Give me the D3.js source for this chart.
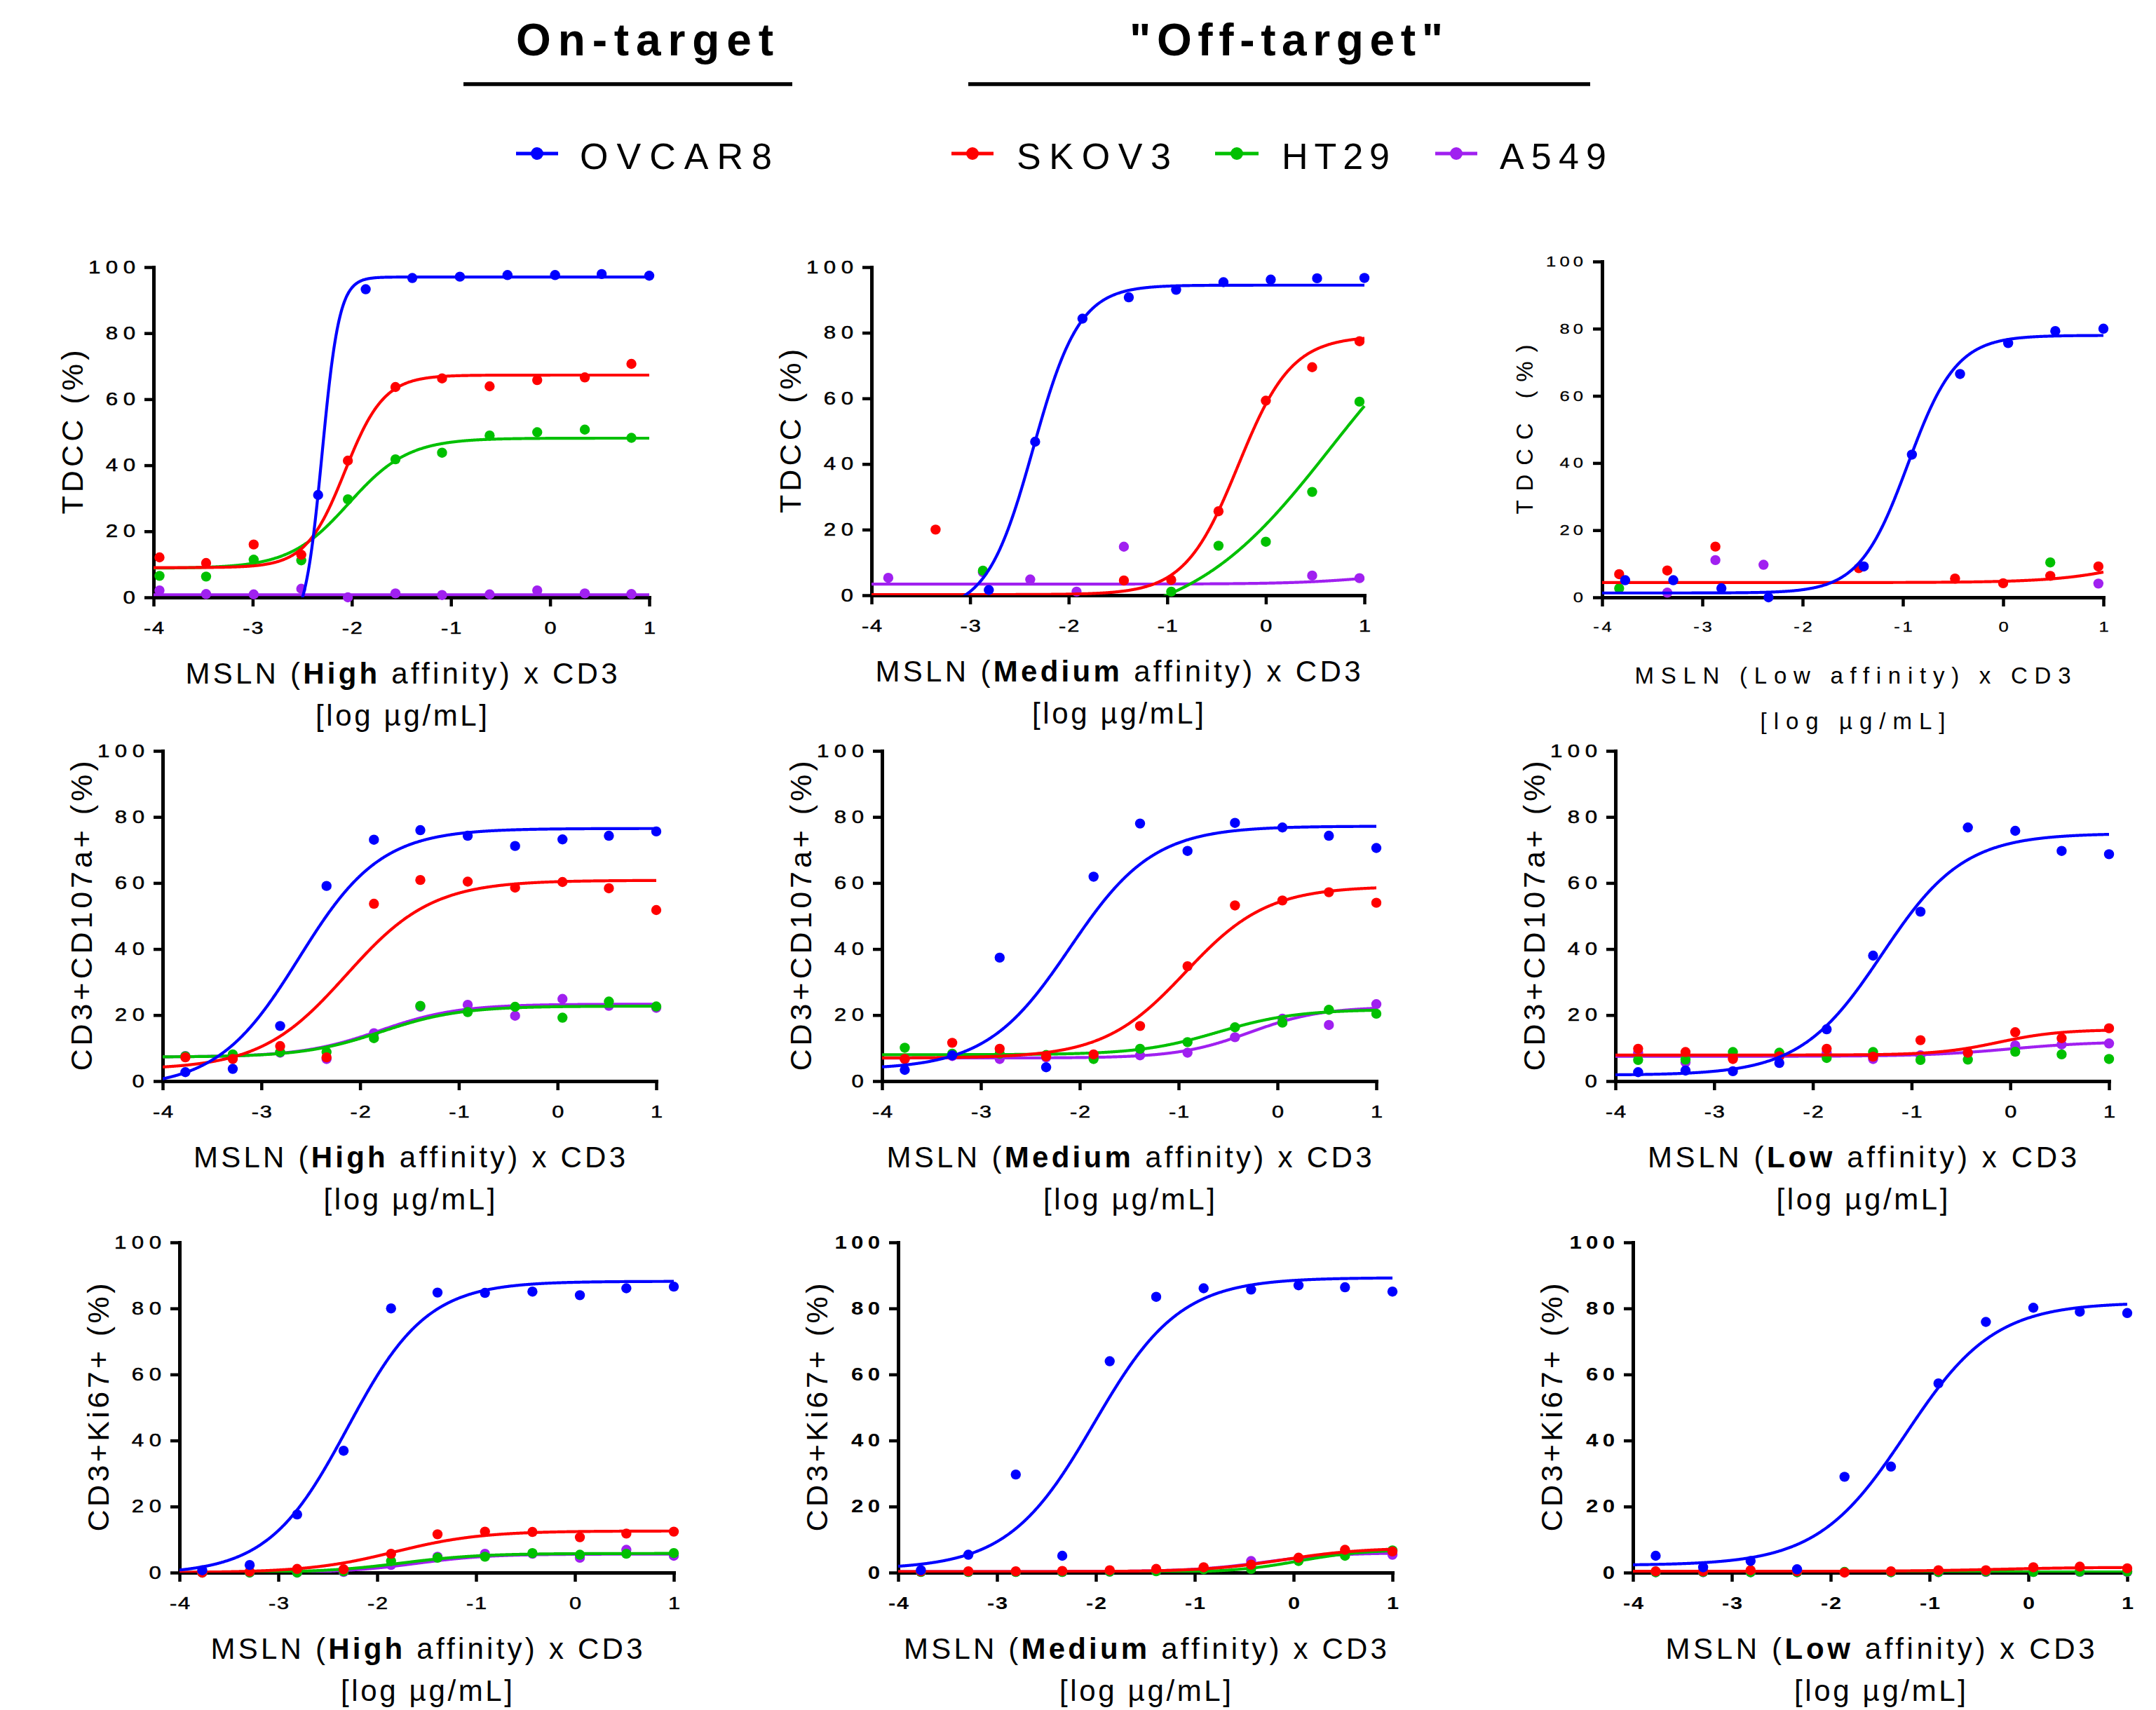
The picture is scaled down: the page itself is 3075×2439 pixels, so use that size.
<!DOCTYPE html>
<html>
<head>
<meta charset="utf-8">
<script src="https://cdn.jsdelivr.net/npm/d3@7"></script>
<style>
html, body { margin: 0; padding: 0; background: #ffffff; }
svg { display: block; font-family: "Liberation Sans", Arial, Helvetica, sans-serif; }
</style>
</head>
<body>
<svg id="chart" width="3075" height="2439"></svg>
<script>
// ======================= DATA =======================
const cellLines = ["OVCAR8", "SKOV3", "HT29", "A549"];
const groupTitles = ["On-target", "\"Off-target\""];
const affinityLabels = ["High", "Medium", "Low"];
const readoutLabels = ["TDCC (%)", "CD3+CD107a+ (%)", "CD3+Ki67+ (%)"];
const xLabelStart = "MSLN (";
const xLabelEnd = " affinity) x CD3";
const xUnitLabel = "[log \u00b5g/mL]";
const xTickValues = [-4, -3, -2, -1, 0, 1];
const yTickValues = [0, 20, 40, 60, 80, 100];
const xDomain = [-4, 1];
const yDomain = [0, 100];

// log dose grids (log ug/mL)
const logDoseG1 = [-3.77, -3.29, -2.81, -2.34, -1.86, -1.39, -0.91, -0.43, 0.05, 0.52, 1.0];
const logDoseG2 = [-3.94, -3.47, -2.99, -2.51, -2.04, -1.56, -1.09, -0.61, -0.13, 0.35, 0.82];
const logDoseG3 = [-3.83, -3.35, -2.87, -2.39, -1.92, -1.44, -0.96, -0.48, 0.0, 0.47, 0.95];

// measured points, one row per cell line: OVCAR8, SKOV3, HT29, A549 (null = not visible)
const tdccHigh = [
  [null, null, null, 31.0, 93.3, 96.7, 97.1, 97.6, 97.6, 97.9, 97.4],
  [12.1, 10.4, 16.0, 12.9, 41.4, 63.7, 66.3, 63.9, 65.8, 66.6, 70.7],
  [6.5, 6.3, 11.4, 11.2, 29.7, 41.8, 43.8, 49.0, 50.0, 50.8, 48.3],
  [2.1, 1.0, 0.9, 2.6, 0.0, 1.2, 0.7, 0.9, 2.1, 1.2, 1.0]
];
const tdccMedium = [
  [null, null, 1.6, 46.8, 84.3, 90.8, 93.1, 95.4, 96.2, 96.6, 96.7],
  [null, 20.0, null, null, null, 4.5, 4.7, 25.6, 59.3, 69.5, 77.4],
  [null, null, 7.5, null, null, null, 1.1, 15.1, 16.3, 31.5, 59.0],
  [5.3, null, 7.0, 4.8, 1.1, 14.8, null, null, null, 6.0, 5.2]
];
const tdccLow = [
  [5.1, 5.1, 2.7, 0.0, null, 9.2, 42.5, 66.5, 75.7, 79.3, 80.0],
  [6.9, 8.0, 15.1, null, null, 8.7, null, 5.6, 4.2, 6.4, 9.2],
  [2.7, null, null, null, null, null, null, null, null, 10.4, null],
  [null, 1.4, 11.1, 9.7, null, null, null, null, null, null, 4.1]
];
const cd107High = [
  [2.7, 3.7, 16.7, 59.1, 73.1, 76.0, 74.3, 71.2, 73.2, 74.3, 75.6],
  [7.2, 6.7, 10.6, 7.2, 53.7, 60.9, 60.4, 58.6, 60.3, 58.4, 51.8],
  [7.5, 8.1, 8.8, 8.8, 13.0, 22.8, 20.9, 22.5, 19.2, 24.1, 22.6],
  [7.6, 7.6, 8.6, 6.7, 14.5, 22.5, 23.1, 19.8, 24.9, 22.8, 22.2]
];
const cd107Medium = [
  [3.4, 7.8, 37.4, 4.2, 61.9, 78.0, 69.7, 78.2, 76.8, 74.3, 70.6],
  [6.7, 11.6, 9.8, 7.5, 8.1, 16.7, 34.8, 53.2, 54.7, 57.2, 54.0],
  [10.1, 8.3, 8.3, 7.9, 6.7, 9.8, 11.8, 16.3, 17.7, 21.6, 20.4],
  [6.7, 7.6, 6.7, 7.2, 7.6, 7.8, 8.6, 13.3, 18.9, 17.0, 23.3]
];
const cd107Low = [
  [2.7, 3.2, 3.0, 5.5, 15.7, 38.0, 51.3, 76.8, 75.8, 69.7, 68.7],
  [9.8, 8.8, 6.7, 7.5, 9.8, 7.4, 12.4, 8.6, 14.8, 13.0, 16.0],
  [6.4, 6.5, 8.8, 8.6, 7.0, 8.8, 6.4, 6.5, 8.9, 8.1, 6.7],
  [8.6, 5.7, 7.2, 7.6, 8.6, 6.7, 7.8, 8.5, 10.8, 11.1, 11.4]
];
const ki67High = [
  [0.7, 2.3, 17.6, 36.9, 80.0, 84.8, 84.7, 85.1, 84.0, 86.1, 86.6],
  [0.0, 0.3, 1.1, 1.0, 5.7, 11.6, 12.4, 12.3, 10.7, 11.8, 12.4],
  [0.0, 0.0, 0.0, 0.4, 3.5, 4.5, 4.8, 5.9, 5.4, 5.7, 5.9],
  [0.0, 0.0, 0.0, 0.2, 2.3, 4.8, 5.7, 5.7, 4.5, 6.9, 5.1]
];
const ki67Medium = [
  [0.7, 5.4, 29.7, 5.1, 64.0, 83.5, 86.1, 85.7, 87.0, 86.4, 85.1],
  [0.4, 0.4, 0.4, 0.5, 0.7, 1.1, 1.6, 2.4, 4.5, 6.9, 6.4],
  [0.2, 0.2, 0.2, 0.2, 0.3, 0.4, 1.0, 1.1, 3.5, 5.1, 6.7],
  [0.2, 0.2, 0.2, 0.2, 0.3, 0.5, 1.2, 3.5, 3.8, 5.8, 5.4]
];
const ki67Low = [
  [5.1, 1.6, 3.5, 1.0, 29.0, 32.1, 57.3, 75.9, 80.2, 79.0, 78.6],
  [0.4, 0.4, 0.7, 0.4, 0.0, 0.4, 0.7, 0.7, 1.6, 1.8, 1.3],
  [0.1, 0.2, 0.1, 0.1, 0.2, 0.1, 0.2, 0.3, 0.2, 0.3, 0.3],
  [0.1, 0.1, 0.1, 0.1, 0.1, 0.1, 0.1, 0.2, 0.2, 0.2, 0.2]
];

// 4-parameter logistic fits as drawn: [bottom, top, logEC50, hill] (null = no fit drawn)
const tdccHighFit = [[-10, 97, -2.3, 5], [9, 67.3, -2.07, 2.2], [8.8, 48.2, -2.03, 1.45], [0.8, 0.8, -2, 1]];
const tdccMediumFit = [[-5, 94.5, -2.36, 1.85], [0.2, 79, -0.28, 1.6], [-10, 100, 0.66, 0.6], [3.4, 8, 1.2, 1]];
const tdccLowFit = [[1.3, 78, -0.95, 1.8], [4.4, 20, 1.6, 1], null, null];
const cd107HighFit = [[-2, 76.5, -2.62, 1.05], [3.5, 60.8, -2.14, 1.0], [7.3, 22.7, -1.78, 1.1], [7.3, 23.3, -1.8, 1.1]];
const cd107MediumFit = [[3.5, 77.2, -2.1, 1.03], [7, 59, -0.93, 1.05], [8, 21.7, -0.6, 1.1], [7, 22.5, -0.28, 1.2]];
const cd107LowFit = [[1.8, 75, -1.3, 1.05], [7.9, 15.6, -0.12, 1.4], null, [7.5, 12, 0, 1]];
const ki67HighFit = [[-0.5, 88.2, -2.3, 1.08], [0, 12.6, -1.82, 1.0], [0, 5.8, -1.75, 1.1], [0, 5.6, -1.6, 1.2]];
const ki67MediumFit = [[1, 89.3, -2.02, 1.0], [0.3, 7.5, -0.1, 1.1], [0, 7, 0.05, 1.3], [0.3, 6.0, -0.3, 1.2]];
const ki67LowFit = [[2.2, 81.8, -1.24, 0.97], [0.4, 1.6, -0.3, 1], [0.2, 0.2, 0, 1], [0.2, 0.2, 0, 1]];

// ======================= STYLE / LAYOUT =======================
const seriesColors = ["#0000ff", "#ff0000", "#00c000", "#a020f0"];
const drawOrder = [3, 2, 1, 0];

const panelValues = [tdccHigh, tdccMedium, tdccLow, cd107High, cd107Medium, cd107Low, ki67High, ki67Medium, ki67Low];
const panelFits = [tdccHighFit, tdccMediumFit, tdccLowFit, cd107HighFit, cd107MediumFit, cd107LowFit, ki67HighFit, ki67MediumFit, ki67LowFit];
const panelGrids = [
  [logDoseG1, logDoseG2, logDoseG2, logDoseG2],
  [logDoseG1, logDoseG3, logDoseG3, logDoseG3],
  [logDoseG1, logDoseG3, logDoseG3, logDoseG3],
  [logDoseG1, logDoseG1, logDoseG1, logDoseG1],
  [logDoseG1, logDoseG1, logDoseG1, logDoseG1],
  [logDoseG1, logDoseG1, logDoseG1, logDoseG1],
  [logDoseG1, logDoseG1, logDoseG1, logDoseG1],
  [logDoseG1, logDoseG1, logDoseG1, logDoseG1],
  [logDoseG1, logDoseG1, logDoseG1, logDoseG1]
];
const panelReadout = [0, 0, 0, 1, 1, 1, 2, 2, 2];
const panelAffinity = [0, 1, 2, 0, 1, 2, 0, 1, 2];

const panelLayout = [
  {x0: 219, x1: 926, y0: 852, y100: 381},
  {x0: 1243, x1: 1946, y0: 849, y100: 381},
  {x0: 2285, x1: 3000, y0: 852, y100: 373},
  {x0: 232, x1: 936, y0: 1542, y100: 1071},
  {x0: 1258, x1: 1963, y0: 1542, y100: 1071},
  {x0: 2304, x1: 3008, y0: 1542, y100: 1071},
  {x0: 256, x1: 961, y0: 2243, y100: 1772},
  {x0: 1281, x1: 1986, y0: 2243, y100: 1772},
  {x0: 2329, x1: 3034, y0: 2243, y100: 1772}
];
const baseStyle = {yTickFs: 25, yStretch: 1.25, yLs: 6, xTickFs: 24, xStretch: 1.28, xLs: 1.5,
  tickBold: false, tickStroke: 0.5, yPad: 13, xPad: 22,
  labFs: 42, boldAff: true, xLabW: 616, xLabOff: 123, unitW: 245, unitOff: 183,
  yLabFs: 43, yLabW: 234, yLabOff: 115};
const panelStyle = [
  Object.assign({}, baseStyle, {}),
  Object.assign({}, baseStyle, {xLabW: 692}),
  Object.assign({}, baseStyle, {yTickFs: 20, yStretch: 1.28, yLs: 4, xTickFs: 20, xStretch: 1.28, xLs: 3,
    tickStroke: 0.3, yPad: 14, xPad: 22, labFs: 33, boldAff: false,
    xLabW: 622, unitW: 264, unitOff: 188, yLabFs: 33, yLabW: 242, yLabOff: 110}),
  Object.assign({}, baseStyle, {yLabW: 442}),
  Object.assign({}, baseStyle, {yLabW: 442, xLabW: 692}),
  Object.assign({}, baseStyle, {yLabW: 442, xLabW: 612}),
  Object.assign({}, baseStyle, {yLabW: 354}),
  Object.assign({}, baseStyle, {yLabW: 354, xLabW: 689, tickBold: true, tickStroke: 0, yLs: 5}),
  Object.assign({}, baseStyle, {yLabW: 354, xLabW: 612, tickBold: true, tickStroke: 0, yLs: 5})
];

const legendLayout = [
  {lx0: 736, lx1: 796, tx: 827, tw: 274},
  {lx0: 1357, lx1: 1417, tx: 1450, tw: 220},
  {lx0: 1733, lx1: 1795, tx: 1828, tw: 154},
  {lx0: 2047, lx1: 2107, tx: 2139, tw: 152}
];
const legendY = 219, legendTextY = 241;

// ======================= DRAWING =======================
const svg = d3.select("#chart");
svg.append("rect").attr("width", 3075).attr("height", 2439).attr("fill", "#fff");

function fitSpacing(sel, target) {
  sel.style("letter-spacing", "0px");
  const node = sel.node();
  const natural = node.getComputedTextLength();
  const n = node.textContent.length;
  const ls = n > 1 ? (target - natural) / (n - 1) : 0;
  sel.style("letter-spacing", ls + "px");
  return ls;
}

function fourPL(f, xv) {
  return f[0] + (f[1] - f[0]) / (1 + Math.pow(10, (f[2] - xv) * f[3]));
}

// header titles
const titleLayout = [{cx: 919.5, w: 367, ux0: 661, ux1: 1130}, {cx: 1834.5, w: 447, ux0: 1381, ux1: 2268}];
groupTitles.forEach((t, i) => {
  const L = titleLayout[i];
  const tt = svg.append("text").attr("x", L.cx).attr("y", 79).attr("text-anchor", "middle")
    .attr("font-size", 64).attr("font-weight", "bold").attr("fill", "#000").text(t);
  const ls = fitSpacing(tt, L.w);
  tt.attr("x", L.cx + ls / 2);
  svg.append("line").attr("x1", L.ux0).attr("x2", L.ux1).attr("y1", 120).attr("y2", 120)
    .attr("stroke", "#000").attr("stroke-width", 5.5);
});

// legend
cellLines.forEach((name, i) => {
  const L = legendLayout[i];
  svg.append("line").attr("x1", L.lx0).attr("x2", L.lx1).attr("y1", legendY).attr("y2", legendY)
    .attr("stroke", seriesColors[i]).attr("stroke-width", 5);
  svg.append("circle").attr("cx", (L.lx0 + L.lx1) / 2).attr("cy", legendY).attr("r", 9).attr("fill", seriesColors[i]);
  const tt = svg.append("text").attr("x", L.tx).attr("y", legendTextY).attr("font-size", 52).attr("fill", "#000").text(name);
  fitSpacing(tt, L.tw);
});

const fitCurveXs = d3.range(0, 1001).map(i => xDomain[0] + i * (xDomain[1] - xDomain[0]) / 1000);

function drawPanel(pi) {
  const L = panelLayout[pi], S = panelStyle[pi];
  const vals = panelValues[pi], fits = panelFits[pi], grids = panelGrids[pi];
  const x = d3.scaleLinear().domain(xDomain).range([L.x0, L.x1]);
  const y = d3.scaleLinear().domain(yDomain).range([L.y0, L.y100]);
  const g = svg.append("g");
  const fw = S.tickBold ? "bold" : "normal";

  const gy = g.append("g").attr("transform", `translate(${L.x0},0)`)
    .call(d3.axisLeft(y).tickValues(yTickValues).tickFormat(d => String(d))
      .tickSize(13).tickSizeOuter(0).tickPadding(S.yPad));
  const gx = g.append("g").attr("transform", `translate(0,${L.y0})`)
    .call(d3.axisBottom(x).tickValues(xTickValues).tickFormat(d => String(d))
      .tickSize(13).tickSizeOuter(0).tickPadding(S.xPad));
  [gy, gx].forEach(a => {
    a.attr("font-family", null).attr("font-size", null);
    a.select(".domain").attr("stroke", "#000").attr("stroke-width", 5).attr("stroke-linecap", "square");
    a.selectAll(".tick line").attr("stroke", "#000").attr("stroke-width", 4.5);
    a.selectAll(".tick text").attr("fill", "#000").attr("font-weight", fw);
    if (S.tickStroke > 0) a.selectAll(".tick text").attr("stroke", "#000").attr("stroke-width", S.tickStroke);
  });
  // horizontally widened tick digits, as in the reference
  gy.selectAll(".tick text").each(function () {
    const t = d3.select(this);
    const xx = +t.attr("x");
    t.attr("font-size", S.yTickFs).attr("x", xx / S.yStretch)
      .attr("transform", `scale(${S.yStretch},1)`)
      .style("letter-spacing", S.yLs + "px").attr("dx", S.yLs);
  });
  gx.selectAll(".tick text").each(function () {
    const t = d3.select(this);
    t.attr("font-size", S.xTickFs).attr("transform", `scale(${S.xStretch},1)`)
      .style("letter-spacing", S.xLs + "px").attr("dx", S.xLs / 2);
  });

  // clip for fitted curves
  const clipId = "plotclip" + pi;
  g.append("clipPath").attr("id", clipId).append("rect")
    .attr("x", L.x0).attr("y", L.y100 - 30).attr("width", L.x1 - L.x0 + 10).attr("height", L.y0 - L.y100 + 30);

  const line = d3.line().x(d => x(d[0])).y(d => y(d[1]));
  drawOrder.forEach(si => {
    const f = fits[si];
    if (f) {
      g.append("path").datum(fitCurveXs.map(xv => [xv, fourPL(f, xv)]))
        .attr("d", line).attr("fill", "none").attr("stroke", seriesColors[si])
        .attr("stroke-width", 4.2).attr("clip-path", `url(#${clipId})`);
    }
    const pts = grids[si].map((xv, i) => [xv, vals[si][i]]).filter(d => d[1] !== null);
    g.append("g").selectAll("circle").data(pts).join("circle")
      .attr("cx", d => x(d[0])).attr("cy", d => y(d[1])).attr("r", 7.2).attr("fill", seriesColors[si]);
  });

  // x label
  const cx = (L.x0 + L.x1) / 2;
  const xl = g.append("text").attr("x", cx).attr("y", L.y0 + S.xLabOff).attr("text-anchor", "middle")
    .attr("font-size", S.labFs).attr("fill", "#000");
  xl.append("tspan").text(xLabelStart);
  xl.append("tspan").attr("font-weight", S.boldAff ? "bold" : null).text(affinityLabels[panelAffinity[pi]]);
  xl.append("tspan").text(xLabelEnd);
  let ls = fitSpacing(xl, S.xLabW);
  xl.attr("x", cx + ls / 2);

  const ul = g.append("text").attr("x", cx).attr("y", L.y0 + S.unitOff).attr("text-anchor", "middle")
    .attr("font-size", S.labFs).attr("fill", "#000").text(xUnitLabel);
  ls = fitSpacing(ul, S.unitW);
  ul.attr("x", cx + ls / 2);

  // y label
  const cy = (L.y0 + L.y100) / 2;
  const yl = g.append("text").attr("transform", `translate(${L.x0 - S.yLabOff},${cy}) rotate(-90)`)
    .attr("text-anchor", "middle").attr("dy", "0.33em").attr("font-size", S.yLabFs).attr("fill", "#000")
    .text(readoutLabels[panelReadout[pi]]);
  ls = fitSpacing(yl, S.yLabW);
  yl.attr("x", ls / 2);
}

for (let pi = 0; pi < 9; pi++) drawPanel(pi);
</script>
</body>
</html>
